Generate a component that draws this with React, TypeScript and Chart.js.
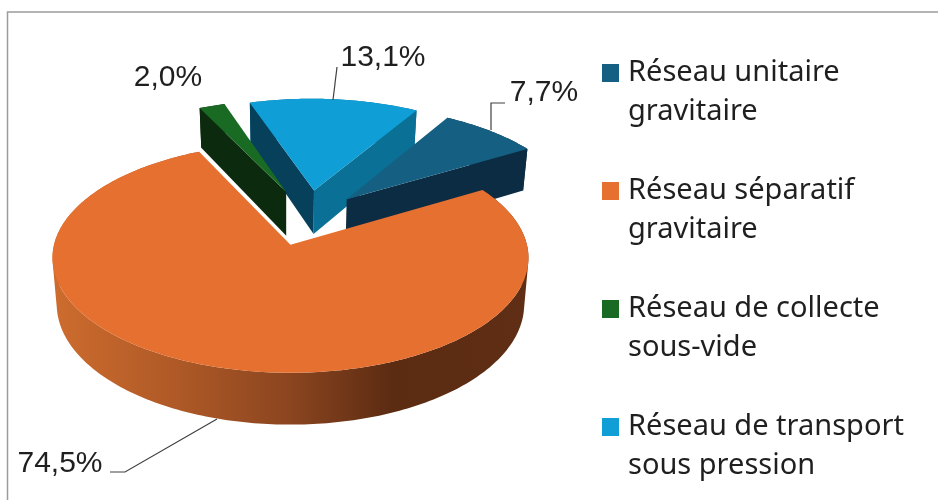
import React, { useEffect, useRef } from "react";
import { Chart, registerables } from "chart.js";

Chart.register(...registerables);

const categories = [
  ["Réseau unitaire", "gravitaire"],
  ["Réseau séparatif", "gravitaire"],
  ["Réseau de collecte", "sous-vide"],
  ["Réseau de transport", "sous pression"],
];
const shares = [7.7, 74.5, 2.0, 13.1];
const explosion = [49, 52, 52, 52];
const topColors = ["#156082", "#E6702F", "#196B24", "#0F9ED5"];
const startCutColors = ["#0B2C42", "#7A3A18", "#0C2B0E", "#07405A"];
const endCutColors = ["#0B2C42", "#7A3A18", "#0C2B0E", "#0A7095"];
const rimColors = ["#0B2C42", "", "#0C2B0E", "#0A7095"];
const rimGradientStops: [number, string][] = [
  [0, "#CD6C2E"],
  [0.25, "#B05A27"],
  [0.5, "#8B451F"],
  [0.72, "#5B2B12"],
  [1, "#5F2E14"],
];

const labelSpots = [
  { x: 544, y: 93 },
  { x: 60, y: 464 },
  { x: 168, y: 78 },
  { x: 383, y: 58 },
];
const leaders: ([number, number][] | null)[] = [
  [[491, 130], [491, 103], [505, 103]],
  [[217, 419], [125, 472], [110, 472]],
  null,
  [[333, 100], [337, 67]],
];

const PROJ = { ox: 290, oy: 245, a: 236.5, b: 113.5, k: 0.113, depth: 46, taper: 0.018, cu: 0.078, cv: -0.25 };

function project(u: number, v: number, z: number): [number, number] {
  const uu = u + PROJ.cu;
  const vv = v + PROJ.cv;
  const w = 1 - PROJ.k * vv;
  return [
    PROJ.ox + ((PROJ.a * uu) / w) * (1 - PROJ.taper * z),
    PROJ.oy + (PROJ.b * vv + PROJ.depth * z) / w,
  ];
}

function trace(ctx: CanvasRenderingContext2D, pts: [number, number][]) {
  pts.forEach((p, i) => (i ? ctx.lineTo(p[0], p[1]) : ctx.moveTo(p[0], p[1])));
  ctx.closePath();
}

function polygon(ctx: CanvasRenderingContext2D, pts: [number, number][], fill: any) {
  ctx.beginPath();
  trace(ctx, pts);
  ctx.fillStyle = fill;
  ctx.fill();
}

function signedArea(pts: [number, number][]) {
  let s = 0;
  pts.forEach((p, i) => {
    const q = pts[(i + 1) % pts.length];
    s += p[0] * q[1] - q[0] * p[1];
  });
  return s;
}

const pie3d = {
  id: "pie3d",
  beforeDraw(chart: any) {
    const ctx = chart.ctx;
    ctx.save();
    ctx.fillStyle = "#FFFFFF";
    ctx.fillRect(0, 0, chart.width, chart.height);
    ctx.strokeStyle = "#9C9C9C";
    ctx.lineWidth = 1.5;
    ctx.beginPath();
    ctx.moveTo(7.5, chart.height);
    ctx.lineTo(7.5, 12);
    ctx.lineTo(chart.width, 12);
    ctx.stroke();
    ctx.restore();
  },
  beforeDatasetsDraw(chart: any) {
    const ctx = chart.ctx;
    const arcs = chart.getDatasetMeta(0).data;
    const order = arcs
      .map((el: any, i: number) => ({ i, s: Math.sin((el.startAngle + el.endAngle) / 2) }))
      .sort((p: any, q: any) => p.s - q.s);
    ctx.save();
    order.forEach(({ i }: any) => {
      const el = arcs[i];
      const mid = (el.startAngle + el.endAngle) / 2;
      const ex = (el.options.offset || 0) / el.outerRadius;
      const ax = ex * Math.cos(mid);
      const ay = ex * Math.sin(mid);
      const n = Math.max(2, Math.ceil(((el.endAngle - el.startAngle) * 180) / Math.PI));
      const rim: [number, number][] = [];
      for (let j = 0; j <= n; j++) {
        const t = el.startAngle + ((el.endAngle - el.startAngle) * j) / n;
        rim.push([ax + Math.cos(t), ay + Math.sin(t)]);
      }
      const face = (p: [number, number], q: [number, number]) => [
        project(p[0], p[1], 0),
        project(q[0], q[1], 0),
        project(q[0], q[1], 1),
        project(p[0], p[1], 1),
      ] as [number, number][];
      const apex: [number, number] = [ax, ay];
      // outer wall: all step quads in one path with the same winding, filled once
      let wallFill: any = rimColors[i];
      if (!wallFill) {
        const g = ctx.createLinearGradient(PROJ.ox - PROJ.a, 0, PROJ.ox + PROJ.a, 0);
        rimGradientStops.forEach(([o, c]) => g.addColorStop(o, c));
        wallFill = g;
      }
      ctx.beginPath();
      for (let j = 0; j < n; j++) {
        const quad = face(rim[j], rim[j + 1]);
        trace(ctx, signedArea(quad) < 0 ? quad.slice().reverse() : quad);
      }
      ctx.fillStyle = wallFill;
      ctx.fill("nonzero");
      // cut faces that look toward the viewer
      if (Math.cos(el.startAngle) < 0) polygon(ctx, face(apex, rim[0]), startCutColors[i]);
      if (Math.cos(el.endAngle) > 0) polygon(ctx, face(apex, rim[n]), endCutColors[i]);
      // top
      polygon(ctx, [project(apex[0], apex[1], 0), ...rim.map((p) => project(p[0], p[1], 0))], el.options.backgroundColor);
    });
    ctx.restore();
    return false;
  },
  afterDraw(chart: any) {
    const ctx = chart.ctx;
    ctx.save();
    // leader lines
    ctx.strokeStyle = "#404040";
    ctx.lineWidth = 1.2;
    leaders.forEach((pts) => {
      if (!pts) return;
      ctx.beginPath();
      pts.forEach((p, i) => (i ? ctx.lineTo(p[0], p[1]) : ctx.moveTo(p[0], p[1])));
      ctx.stroke();
    });
    // value labels
    ctx.fillStyle = "#1F1F1F";
    ctx.font = '30px "Liberation Sans"';
    ctx.textAlign = "center";
    ctx.textBaseline = "middle";
    shares.forEach((val, i) => {
      ctx.fillText(val.toFixed(1).replace(".", ",") + "%", labelSpots[i].x, labelSpots[i].y);
    });
    // legend
    const items = Chart.overrides.doughnut.plugins.legend.labels.generateLabels(chart);
    ctx.font = '29px "Noto Sans"';
    ctx.textAlign = "left";
    items.forEach((item: any, i: number) => {
      const y = 73 + i * 118;
      ctx.fillStyle = item.fillStyle;
      ctx.fillRect(602, y - 9, 17, 18);
      ctx.fillStyle = "#1F1F1F";
      (item.text as string[]).forEach((line, l) => ctx.fillText(line, 628, y + l * 39));
    });
    ctx.restore();
  },
};

export default function App() {
  const ref = useRef<HTMLCanvasElement>(null);
  useEffect(() => {
    const chart = new Chart(ref.current!, {
      type: "pie",
      data: {
        labels: categories as any,
        datasets: [
          {
            data: shares,
            backgroundColor: topColors,
            borderWidth: 0,
            offset: explosion,
            radius: 200,
          } as any,
        ],
      },
      options: {
        responsive: false,
        animation: false,
        rotation: 30.7,
        plugins: { legend: { display: false }, tooltip: { enabled: false } },
      },
      plugins: [pie3d as any],
    });
    return () => chart.destroy();
  }, []);
  return (
    <div style={{ position: "absolute", left: 0, top: 0, width: 938, height: 500 }}>
      <canvas ref={ref} width={938} height={500} style={{ display: "block" }} />
    </div>
  );
}
